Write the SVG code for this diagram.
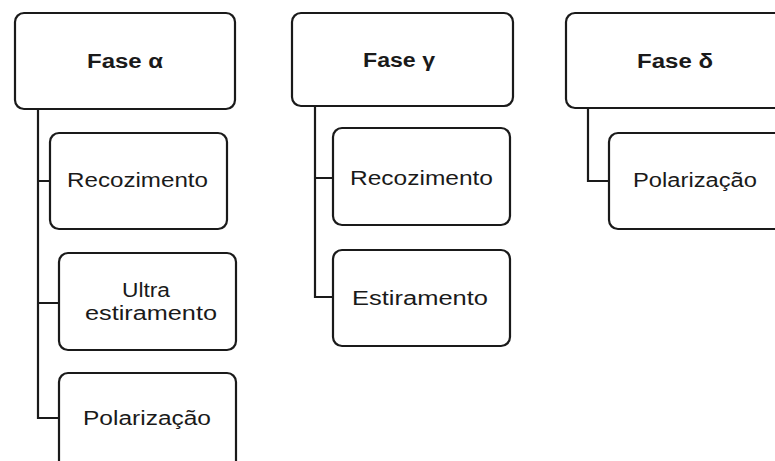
<svg xmlns="http://www.w3.org/2000/svg" width="775" height="461" viewBox="0 0 775 461">
<style>
.box{fill:#fff;stroke:#1a1a1a;stroke-width:2.2}
.conn{fill:none;stroke:#1a1a1a;stroke-width:2.2}
.t{font-family:"Liberation Sans",Arial,sans-serif;font-size:19.5px;fill:#1a1a1a}
.b{font-weight:bold;font-size:20px}
</style>
<rect width="775" height="461" fill="#fff"/>
<g id="connectors">
<path class="conn" d="M38 109V418H59M38 181H50M38 303H59"/>
<path class="conn" d="M315 106V297H333M315 178H333"/>
<path class="conn" d="M588 108V181H609"/>
</g>
<g id="fase-alpha">
<rect class="box" x="15" y="13" width="220" height="96" rx="9"/>
<text class="t b" x="87" y="68" textLength="76" lengthAdjust="spacingAndGlyphs">Fase α</text>
</g>
<g id="alpha-recozimento">
<rect class="box" x="50" y="133" width="177" height="96" rx="9"/>
<text class="t" x="67" y="187" textLength="141" lengthAdjust="spacingAndGlyphs">Recozimento</text>
</g>
<g id="alpha-ultra">
<rect class="box" x="59" y="253" width="177" height="97" rx="9"/>
<text class="t" x="122" y="297" textLength="48" lengthAdjust="spacingAndGlyphs">Ultra</text>
<text class="t" x="85" y="320" textLength="132" lengthAdjust="spacingAndGlyphs">estiramento</text>
</g>
<g id="alpha-polarizacao">
<rect class="box" x="59" y="373" width="177" height="97" rx="9"/>
<text class="t" x="83" y="425" textLength="128" lengthAdjust="spacingAndGlyphs">Polarização</text>
</g>
<g id="fase-gamma">
<rect class="box" x="292" y="13" width="221" height="93" rx="9"/>
<text class="t b" x="363" y="67" textLength="72" lengthAdjust="spacingAndGlyphs">Fase γ</text>
</g>
<g id="gamma-recozimento">
<rect class="box" x="333" y="128" width="177" height="97" rx="9"/>
<text class="t" x="350" y="185" textLength="143" lengthAdjust="spacingAndGlyphs">Recozimento</text>
</g>
<g id="gamma-estiramento">
<rect class="box" x="333" y="250" width="177" height="96" rx="9"/>
<text class="t" x="352" y="305" textLength="136" lengthAdjust="spacingAndGlyphs">Estiramento</text>
</g>
<g id="fase-delta">
<rect class="box" x="566" y="13" width="230" height="95" rx="9"/>
<text class="t b" x="637" y="68" textLength="76" lengthAdjust="spacingAndGlyphs">Fase δ</text>
</g>
<g id="delta-polarizacao">
<rect class="box" x="609" y="133" width="190" height="96" rx="9"/>
<text class="t" x="633" y="187" textLength="124" lengthAdjust="spacingAndGlyphs">Polarização</text>
</g>
</svg>
